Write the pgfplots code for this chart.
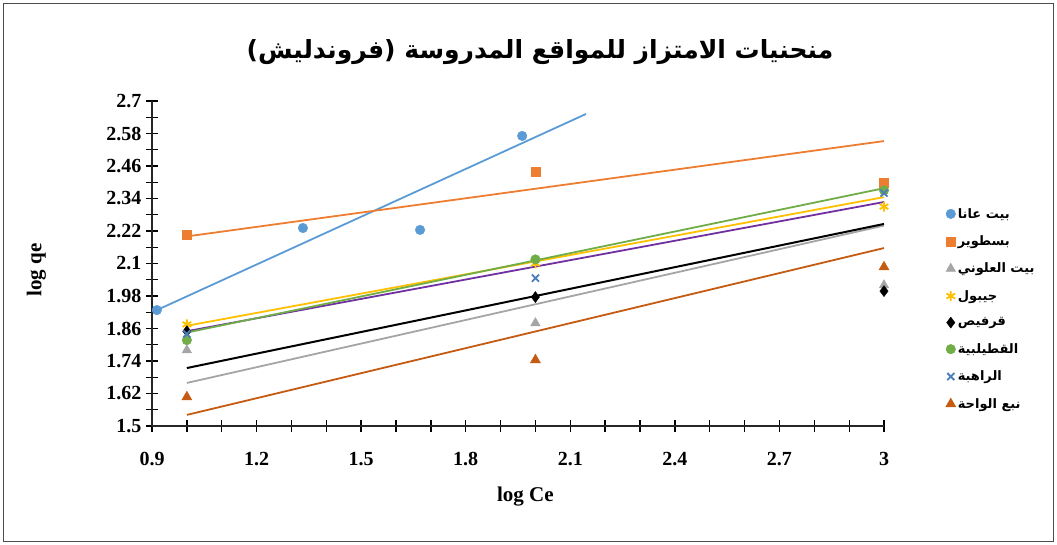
\documentclass[border=0pt]{standalone}
\usepackage{fontspec}
\setmainfont{Liberation Serif}
\newfontfamily\arabicfont[Script=Arabic]{DejaVu Sans}
\TeXXeTstate=1
\usepackage{pgfplots}
\pgfplotsset{compat=1.18}
\definecolor{cBlue}{HTML}{5B9BD5}
\definecolor{cOrange}{HTML}{ED7D31}
\definecolor{cGray}{HTML}{A5A5A5}
\definecolor{cYellow}{HTML}{FFC000}
\definecolor{cGreen}{HTML}{70AD47}
\definecolor{cPurple}{HTML}{7030A0}
\definecolor{cBrown}{HTML}{C55A11}
\definecolor{cX}{HTML}{4A7EBB}
\newcommand{\ar}[1]{{\arabicfont\bfseries\beginR #1\endR}}
\begin{document}
\begin{tikzpicture}
\useasboundingbox (0,0) rectangle (1057pt,545pt);
\draw[line width=1.2pt, black!70] (3.5pt,3.5pt) rectangle (1053.5pt,541.5pt);
\begin{axis}[
  at={(152pt,119pt)}, anchor=south west,
  scale only axis, width=732pt, height=325pt,
  xmin=0.9, xmax=3, ymin=1.5, ymax=2.7,
  axis lines*=left,
  axis line style={line width=1.8pt, black!85},
  xtick={0.9,1.2,1.5,1.8,2.1,2.4,2.7,3},
  minor xtick={1.0,1.1,1.3,1.4,1.6,1.7,1.9,2.0,2.2,2.3,2.5,2.6,2.8,2.9},
  ytick={1.5,1.62,1.74,1.86,1.98,2.1,2.22,2.34,2.46,2.58,2.7},
  minor ytick={1.56,1.68,1.8,1.92,2.04,2.16,2.28,2.4,2.52,2.64},
  tick align=center,
  major tick length=12pt, minor tick length=12pt,
  every tick/.style={draw=black, line width=1.3pt},
  every major tick/.style={draw=black, line width=1.3pt},
  every minor tick/.style={draw=black, line width=1.3pt},
  /pgf/number format/assume math mode=true,
  tick label style={font=\bfseries\fontsize{20}{20}\selectfont},
  xticklabel style={yshift=-17pt},
  yticklabel style={xshift=-1pt},
  xlabel={log Ce},
  ylabel={log qe},
  every axis x label/.style={at={(rel axis cs:0.51,-0.218)}, anchor=center, font=\bfseries\fontsize{21}{21}\selectfont},
  every axis y label/.style={at={(rel axis cs:-0.158,0.48)}, rotate=90, anchor=center, font=\bfseries\fontsize{21}{21}\selectfont},
  clip=false,
  legend style={draw=none, fill=none, at={(rel axis cs:1.08,0.683)}, anchor=north west,
    font=\fontsize{13}{14}\selectfont, row sep=12pt},
  legend cell align=left,
]
% data series
\addplot[only marks, mark=*, mark size=4.8pt, color=cBlue] coordinates {(0.914,1.928) (1.333,2.231) (1.669,2.224) (1.962,2.571)};
\addlegendentry{\ar{بيت عانا}}
\addplot[only marks, mark=square*, mark size=4.5pt, color=cOrange] coordinates {(1,2.205) (2,2.438) (3,2.40)};
\addlegendentry{\ar{بسطوير}}
\addplot[only marks, mark=triangle*, mark size=5.5pt, color=cGray] coordinates {(1,1.78) (2,1.88) (3,2.02)};
\addlegendentry{\ar{بيت العلوني}}
\addplot[only marks, mark=asterisk, mark size=5pt, line width=1.8pt, color=cYellow] coordinates {(1,1.875) (2,2.10) (3,2.31)};
\addlegendentry{\ar{جيبول}}
\addplot[only marks, mark=diamond*, mark size=5.5pt, color=black] coordinates {(1,1.85) (2,1.976) (3,1.998)};
\addlegendentry{\ar{قرفيص}}
\addplot[only marks, mark=*, mark size=4.8pt, color=cGreen] coordinates {(1,1.817) (2,2.115) (3,2.37)};
\addlegendentry{\ar{القطيلبية}}
\addplot[only marks, mark=x, mark size=5pt, line width=1.8pt, color=cX] coordinates {(1,1.84) (2,2.046) (3,2.36)};
\addlegendentry{\ar{الراهبة}}
\addplot[only marks, mark=triangle*, mark size=5.8pt, color=cBrown] coordinates {(1,1.607) (2,1.744) (3,2.087)};
\addlegendentry{\ar{نبع الواحة}}
% trend lines
\addplot[forget plot, no marks, line width=1.8pt, cBlue] coordinates {(0.914,1.928) (2.145,2.652)};
\addplot[forget plot, no marks, line width=1.8pt, cOrange] coordinates {(1,2.20) (3,2.552)};
\addplot[forget plot, no marks, line width=1.8pt, cGray] coordinates {(1,1.659) (3,2.24)};
\addplot[forget plot, no marks, line width=1.8pt, cBrown] coordinates {(1,1.541) (3,2.157)};
\addplot[forget plot, no marks, line width=2pt, black] coordinates {(1,1.714) (3,2.246)};
\addplot[forget plot, no marks, line width=1.8pt, cPurple] coordinates {(1,1.85) (3,2.327)};
\addplot[forget plot, no marks, line width=1.8pt, cYellow] coordinates {(1,1.87) (3,2.345)};
\addplot[forget plot, no marks, line width=1.8pt, cGreen] coordinates {(1,1.845) (3,2.378)};
\node[anchor=center, font=\fontsize{25}{28}\selectfont] at (rel axis cs:0.53,1.15) {\ar{منحنيات الامتزاز للمواقع المدروسة (فروندليش)}};
\end{axis}
\end{tikzpicture}
\end{document}
